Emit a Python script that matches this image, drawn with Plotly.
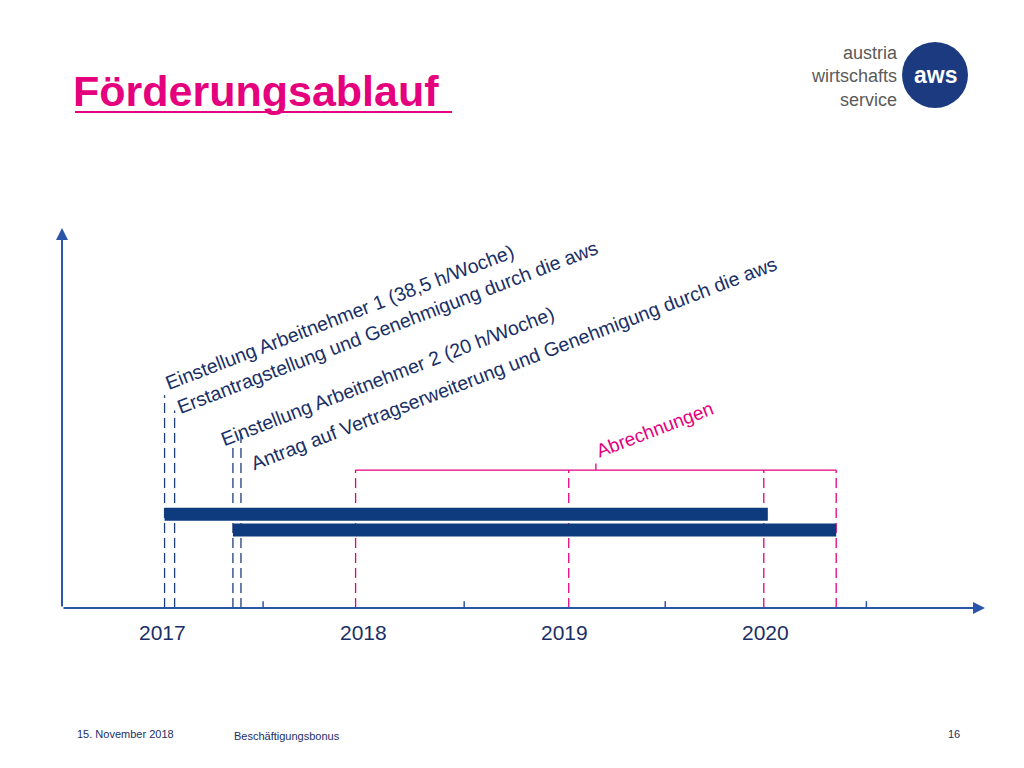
import plotly.graph_objects as go

# Zeitachse in Dezimaljahren (Jahr N = Intervall [N, N+1])
years = [2017, 2018, 2019, 2020]
year_ticks = [2018, 2019, 2020, 2021]
events = [2017.51, 2017.56, 2017.85, 2017.89]      # Einstellung/Antrag
event_tops = [0.56, 0.52, 0.43, 0.46]
event_labels = [
    "Einstellung Arbeitnehmer 1 (38,5 h/Woche)",
    "Erstantragstellung und Genehmigung durch die aws",
    "Einstellung Arbeitnehmer 2 (20 h/Woche)",
    "Antrag auf Vertragserweiterung und Genehmigung durch die aws",
]
label_pos = [(2018.38, 0.765), (2018.62, 0.74), (2018.62, 0.61), (2019.25, 0.645)]
bars = [(2017.51, 2020.51, 0.247), (2017.85, 2020.85, 0.205)]
abrechnungen = [2018.46, 2019.52, 2020.49, 2020.85]

NAVY = "#0e3a7e"
PINK = "#e5007d"
BLUE = "#2b55a6"
TXT = "#1a2f66"

# Plotbereich in Pixeln (Seite hat 8px Rand)
L, R, T, B = 62, 985, 228, 608


def px(x, y):
    """Pixel der Seite -> paper-Koordinaten"""
    return (x - L) / (R - L), (B - y) / (B - T)


fig = go.Figure()

for x, top in zip(events, event_tops):
    fig.add_trace(go.Scatter(x=[x, x], y=[0, top], mode="lines",
                             line=dict(color="#1f3f7a", width=1.3, dash="10px,5px"),
                             hoverinfo="skip"))
for x in abrechnungen:
    fig.add_trace(go.Scatter(x=[x, x], y=[0, 0.363], mode="lines",
                             line=dict(color=PINK, width=1.3, dash="10px,5px"),
                             hoverinfo="skip"))
# Klammer
fig.add_trace(go.Scatter(x=[abrechnungen[0], abrechnungen[-1]], y=[0.363, 0.363],
                         mode="lines", line=dict(color=PINK, width=1.3), hoverinfo="skip"))
mid = (abrechnungen[0] + abrechnungen[-1]) / 2
fig.add_trace(go.Scatter(x=[mid, mid], y=[0.363, 0.38], mode="lines",
                         line=dict(color=PINK, width=1.3), hoverinfo="skip"))

for x0, x1, y in bars:
    fig.add_trace(go.Scatter(x=[x0, x1], y=[y, y], mode="lines",
                             line=dict(color=NAVY, width=13), hoverinfo="skip"))

for x in year_ticks:
    fig.add_trace(go.Scatter(x=[x, x], y=[0, 0.018], mode="lines",
                             line=dict(color=BLUE, width=1.5), hoverinfo="skip"))

# Achsen mit Pfeilen
fig.add_annotation(x=2021.59, y=0, ax=2017.0, ay=0, xref="x", yref="y", axref="x", ayref="y",
                   showarrow=True, arrowhead=2, arrowsize=1.2, arrowwidth=2, arrowcolor=BLUE, text="")
fig.add_annotation(x=2017.0, y=1.0, ax=2017.0, ay=0, xref="x", yref="y", axref="x", ayref="y",
                   showarrow=True, arrowhead=2, arrowsize=1.2, arrowwidth=2, arrowcolor=BLUE, text="")

for yr in years:
    fig.add_annotation(x=yr + 0.5, y=px(0, 632)[1], xref="x", yref="paper", yanchor="middle",
                       text=str(yr), showarrow=False, font=dict(size=21, color=TXT))

for txt, (x, y) in zip(event_labels, label_pos):
    fig.add_annotation(x=x, y=y, text=txt, showarrow=False, textangle=-21,
                       font=dict(size=19.5, color=TXT))
fig.add_annotation(x=2019.95, y=0.47, text="Abrechnungen", showarrow=False, textangle=-21,
                   font=dict(size=19, color=PINK))


def note(x, y, text, size, color, anchor="left", align="left"):
    xp, yp = px(x, y)
    fig.add_annotation(x=xp, y=yp, xref="paper", yref="paper", text=text, showarrow=False,
                       xanchor=anchor, yanchor="middle", align=align,
                       font=dict(size=size, color=color))


# Titel, Logo, Fußzeile
note(71, 91, "<b>Förderungsablauf</b>", 43, PINK)
note(900, 76, "austria<br>wirtschafts<br>service", 18, "#5a5a5a", "right", "right")
note(935, 75, "<b>aws</b>", 23, "white", "center")
note(75, 734, "15. November 2018", 11, TXT)
note(232, 736, "Beschäftigungsbonus", 11, TXT)
note(962, 734, "16", 11, TXT, "right")

ux0, uy = px(75, 112)
ux1, _ = px(452, 112)
cx0, cy0 = px(902, 108)
cx1, cy1 = px(968, 42)

fig.update_layout(
    width=1024, height=768, showlegend=False,
    paper_bgcolor="white", plot_bgcolor="white",
    margin=dict(l=L - 8, r=1024 - R + 8, t=T - 8, b=768 - B + 8),
    font=dict(family="Liberation Sans"),
    xaxis=dict(range=[2017.0, 2021.59], visible=False, fixedrange=True),
    yaxis=dict(range=[0, 1], visible=False, fixedrange=True),
    shapes=[
        dict(type="line", xref="paper", yref="paper", x0=ux0, x1=ux1, y0=uy, y1=uy,
             line=dict(color=PINK, width=2)),
        dict(type="circle", xref="paper", yref="paper", x0=cx0, x1=cx1, y0=cy0, y1=cy1,
             fillcolor="#1b3a80", line=dict(width=0)),
    ],
)
fig.write_html("out.html")
